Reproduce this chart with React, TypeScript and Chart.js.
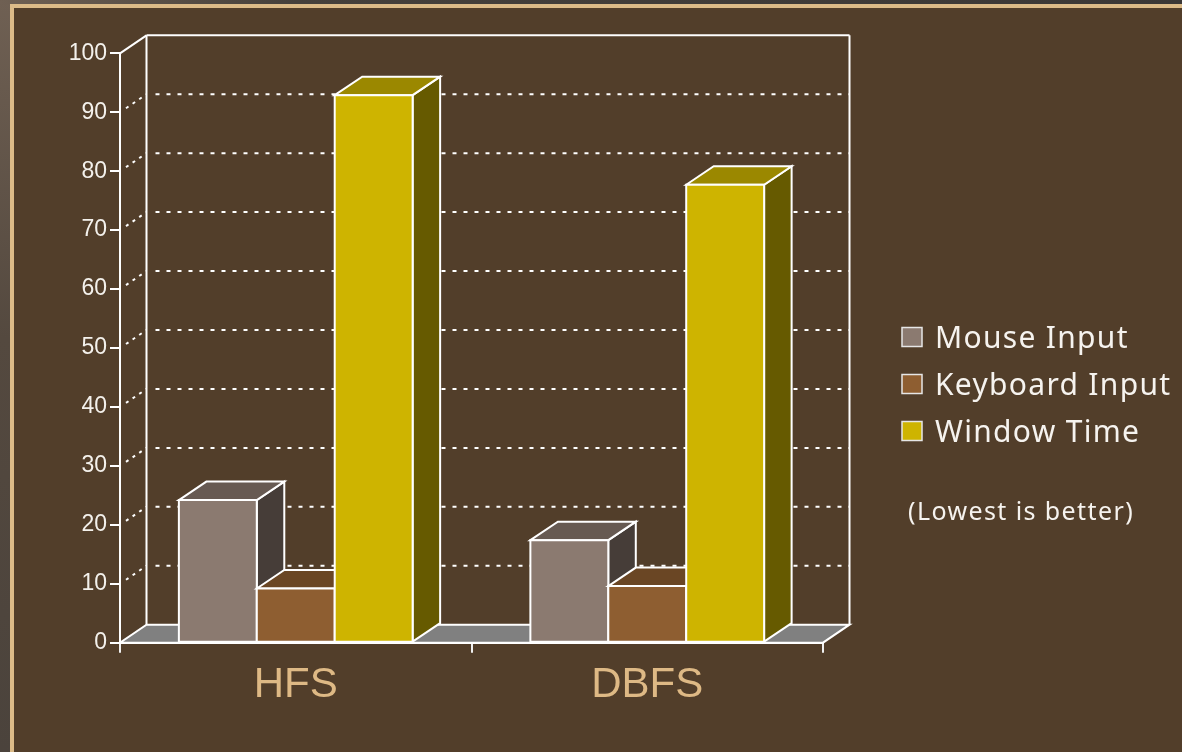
import React, { useEffect, useRef } from "react";
import { Chart, registerables } from "chart.js";

Chart.register(...registerables);

// ---- data ----
const categories = ["HFS", "DBFS"];
const seriesNames = ["Mouse Input", "Keyboard Input", "Window Time"];
const mouseInput = [24.2, 17.4];
const keyboardInput = [9.2, 9.6];
const windowTime = [92.9, 77.7];
const yMin = 0;
const yMax = 100;
const yStep = 10;
const noteText = "(Lowest is better)";

// ---- styles ----
const frontColors = ["#8b7a70", "#8e5e31", "#ceb400"];
const topColors = ["#675a52", "#6a4624", "#9b8800"];
const sideColors = ["#463d38", "#47301a", "#665a00"];
const WALL_DX = 26.5;
const WALL_DY = 18;
const BAR_DX = 27.5;
const BAR_DY = 18.5;
const LINE = "#ffffff";

const threeD = {
  id: "threeD",
  beforeDatasetsDraw(chart: any) {
    const { ctx, chartArea } = chart;
    const { left, right } = chartArea;
    const y = chart.scales.y;
    ctx.save();
    ctx.strokeStyle = LINE;
    ctx.lineWidth = 2;
    // back gridlines + diagonal wall lines
    for (let v = yMin + yStep; v < yMax; v += yStep) {
      const py = y.getPixelForValue(v);
      ctx.setLineDash([4, 7]);
      ctx.beginPath();
      ctx.moveTo(left + WALL_DX + 9, py - WALL_DY);
      ctx.lineTo(right + WALL_DX, py - WALL_DY);
      ctx.stroke();
      ctx.setLineDash([3, 5]);
      ctx.beginPath();
      ctx.moveTo(left + 6, py - 4);
      ctx.lineTo(left + WALL_DX, py - WALL_DY);
      ctx.stroke();
    }
    // top edge of back wall
    const pTop = y.getPixelForValue(yMax);
    ctx.setLineDash([]);
    ctx.beginPath();
    ctx.moveTo(left + WALL_DX, pTop - WALL_DY);
    ctx.lineTo(right + WALL_DX, pTop - WALL_DY);
    ctx.stroke();
    ctx.beginPath();
    ctx.moveTo(left, pTop);
    ctx.lineTo(left + WALL_DX, pTop - WALL_DY);
    ctx.stroke();
    // back verticals
    const p0 = y.getPixelForValue(yMin);
    ctx.beginPath();
    ctx.moveTo(left + WALL_DX, pTop - WALL_DY);
    ctx.lineTo(left + WALL_DX, p0 - WALL_DY);
    ctx.moveTo(right + WALL_DX, pTop - WALL_DY);
    ctx.lineTo(right + WALL_DX, p0 - WALL_DY);
    ctx.stroke();
    // floor
    ctx.beginPath();
    ctx.moveTo(left, p0);
    ctx.lineTo(right, p0);
    ctx.lineTo(right + WALL_DX, p0 - WALL_DY);
    ctx.lineTo(left + WALL_DX, p0 - WALL_DY);
    ctx.closePath();
    ctx.fillStyle = "#808080";
    ctx.fill();
    ctx.stroke();
    ctx.restore();
  },
  beforeDatasetDraw() {
    return false;
  },
  afterDatasetsDraw(chart: any) {
    const { ctx } = chart;
    const n = chart.data.labels.length;
    ctx.save();
    ctx.strokeStyle = LINE;
    ctx.lineWidth = 2;
    ctx.lineJoin = "miter";
    for (let j = 0; j < n; j++) {
      chart.data.datasets.forEach((ds: any, i: number) => {
        const el = chart.getDatasetMeta(i).data[j];
        if (!el) return;
        const { x, y, base, width } = el.getProps(["x", "y", "base", "width"], true);
        const l = x - width / 2;
        const r = x + width / 2;
        // side
        ctx.beginPath();
        ctx.moveTo(r, y);
        ctx.lineTo(r + BAR_DX, y - BAR_DY);
        ctx.lineTo(r + BAR_DX, base - BAR_DY);
        ctx.lineTo(r, base);
        ctx.closePath();
        ctx.fillStyle = sideColors[i];
        ctx.fill();
        ctx.stroke();
        // top
        ctx.beginPath();
        ctx.moveTo(l, y);
        ctx.lineTo(l + BAR_DX, y - BAR_DY);
        ctx.lineTo(r + BAR_DX, y - BAR_DY);
        ctx.lineTo(r, y);
        ctx.closePath();
        ctx.fillStyle = topColors[i];
        ctx.fill();
        ctx.stroke();
        // front
        ctx.beginPath();
        ctx.rect(l, y, r - l, base - y);
        ctx.fillStyle = frontColors[i];
        ctx.fill();
        ctx.stroke();
      });
    }
    ctx.restore();
  },
  afterDraw(chart: any) {
    const { ctx } = chart;
    ctx.save();
    const rowY = [337, 384, 431];
    chart.data.datasets.forEach((ds: any, i: number) => {
      const cy = rowY[i];
      ctx.fillStyle = ds.backgroundColor;
      ctx.fillRect(902, cy - 9.5, 20, 19);
      ctx.strokeStyle = "#e6e6e6";
      ctx.lineWidth = 1.5;
      ctx.strokeRect(902, cy - 9.5, 20, 19);
      ctx.fillStyle = "#f6f3ef";
      ctx.font = '30px "Noto Sans"';
      (ctx as any).letterSpacing = "1.3px";
      ctx.textBaseline = "alphabetic";
      ctx.textAlign = "left";
      ctx.fillText(ds.label, 935, cy + 10.7);
    });
    ctx.font = '25px "Noto Sans"';
    (ctx as any).letterSpacing = "1.4px";
    ctx.fillStyle = "#f6f3ef";
    ctx.fillText(noteText, 908, 519.5);
    ctx.restore();
  },
};

export default function App() {
  const ref = useRef<HTMLCanvasElement | null>(null);
  useEffect(() => {
    if (!ref.current) return;
    const chart = new Chart(ref.current, {
      type: "bar",
      data: {
        labels: categories,
        datasets: [
          { label: seriesNames[0], data: mouseInput, backgroundColor: frontColors[0] },
          { label: seriesNames[1], data: keyboardInput, backgroundColor: frontColors[1] },
          { label: seriesNames[2], data: windowTime, backgroundColor: frontColors[2] },
        ],
      },
      options: {
        responsive: false,
        animation: false,
        events: [],
        layout: { padding: { left: 0, top: 53.3, right: 359, bottom: 0 } },
        plugins: { legend: { display: false }, tooltip: { enabled: false } },
        datasets: { bar: { categoryPercentage: 0.665, barPercentage: 1 } },
        scales: {
          x: {
            offset: true,
            afterFit: (s: any) => {
              s.height = 109.3;
            },
            grid: {
              offset: true,
              drawOnChartArea: false,
              drawTicks: true,
              tickLength: 10,
              color: "#f0f0f0",
              lineWidth: 2,
            },
            border: { display: true, color: "#ffffff", width: 2 },
            ticks: {
              color: "#deb985",
              font: { family: '"Liberation Sans", Arial, sans-serif', size: 42 },
              padding: 8,
            },
          },
          y: {
            min: yMin,
            max: yMax,
            afterFit: (s: any) => {
              s.width = 120;
            },
            grid: {
              drawOnChartArea: false,
              drawTicks: true,
              tickLength: 10,
              color: "#ffffff",
              lineWidth: 2,
            },
            border: { display: true, color: "#ffffff", width: 2 },
            ticks: {
              stepSize: yStep,
              color: "#f4f1ec",
              font: { family: '"Liberation Sans", Arial, sans-serif', size: 23 },
              padding: 3,
            },
          },
        },
      },
      plugins: [threeD],
    } as any);
    return () => chart.destroy();
  }, []);

  return (
    <div
      style={{
        position: "fixed",
        left: 0,
        top: 0,
        width: 1182,
        height: 752,
        overflow: "hidden",
        background: "linear-gradient(to bottom, #6f6053 0%, #54493f 45%, #4b433c 100%)",
      }}
    >
      <div
        style={{
          position: "absolute",
          left: 0,
          top: 0,
          width: 1182,
          height: 4,
          background: "linear-gradient(to right, #6f6053 0%, #45403b 25%, #3b3836 100%)",
        }}
      />
      <div
        style={{
          position: "absolute",
          left: 10,
          top: 4,
          width: 1200,
          height: 800,
          boxSizing: "border-box",
          borderLeft: "4px solid #dcbb88",
          borderTop: "4px solid #dcbb88",
          background: "#523e2a",
        }}
      />
      <canvas
        ref={ref}
        width={1182}
        height={752}
        style={{ position: "absolute", left: 0, top: 0, width: 1182, height: 752 }}
      />
    </div>
  );
}
